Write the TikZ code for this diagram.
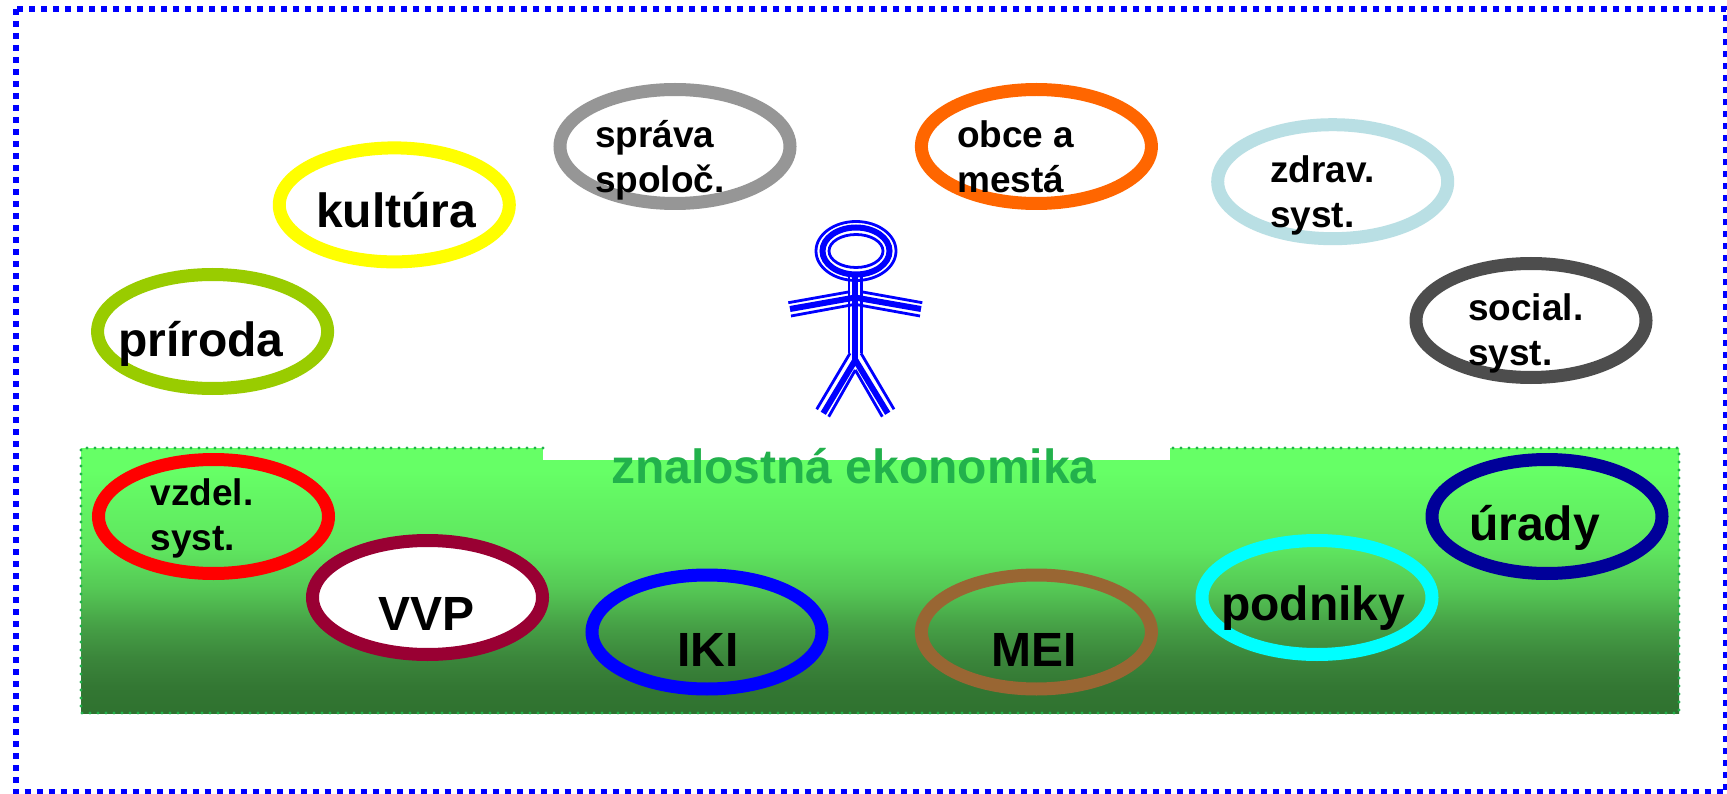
\documentclass[tikz,border=0pt]{standalone}
\usepackage{fontspec}
\setmainfont{Liberation Sans}
\usetikzlibrary{shapes.geometric}
\definecolor{cBlue}{HTML}{0000FF}
\definecolor{cDot}{HTML}{22B14C}
\definecolor{gA}{HTML}{2F722F}
\definecolor{gB}{HTML}{337733}
\definecolor{gC}{HTML}{3B863B}
\definecolor{gE}{HTML}{46A046}
\definecolor{gF}{HTML}{55C855}
\definecolor{gG}{HTML}{5FE55F}
\definecolor{gD}{HTML}{66FF66}
\definecolor{c1}{HTML}{99CC00}
\definecolor{c2}{HTML}{FFFF00}
\definecolor{c3}{HTML}{969696}
\definecolor{c4}{HTML}{FF6600}
\definecolor{c5}{HTML}{B9DFE4}
\definecolor{c6}{HTML}{4D4D4D}
\definecolor{c7}{HTML}{FF0000}
\definecolor{c8}{HTML}{990033}
\definecolor{c9}{HTML}{0000FF}
\definecolor{c10}{HTML}{996633}
\definecolor{c11}{HTML}{00FFFF}
\definecolor{c12}{HTML}{000099}
\pgfdeclareverticalshading{greenfade}{100bp}{color(0bp)=(gA);color(25bp)=(gA);color(30bp)=(gB);color(35.5bp)=(gC);color(41.5bp)=(gE);color(48.5bp)=(gF);color(56bp)=(gG);color(70.9bp)=(gD);color(75bp)=(gD);color(100bp)=(gD)}
\tikzset{
  x=1pt,y=-1pt,
  ring/.style={ellipse,draw=#1,line width=13pt,minimum width=230pt,minimum height=114pt,inner sep=0pt},
  big/.style={anchor=base west,inner sep=0pt,font=\fontsize{48}{48}\selectfont\bfseries},
  small/.style={anchor=base west,inner sep=0pt,font=\fontsize{37}{45}\selectfont\bfseries,align=left},
  thinline/.style={draw=cBlue,line width=2.8pt},
  thickline/.style={draw=cBlue,line width=6pt},
}
\begin{document}
\begin{tikzpicture}
\clip (0,0) rectangle (1727,794);
\fill[white] (0,0) rectangle (1727,794);
% outer frame
\coordinate (fa) at (15.5,9);
\coordinate (fb) at (1726,792);
\draw[cBlue,line width=6pt,dash pattern=on 6pt off 6pt] (fa) rectangle (fb);
% green ground
\coordinate (ga) at (81,448);
\coordinate (gb) at (1679,713);
\shade[shading=greenfade] (ga) rectangle (gb);
\coordinate (na) at (543,440);
\coordinate (nb) at (1170,460);
\fill[white] (na) rectangle (nb);
\coordinate (da) at (543,448);
\coordinate (db) at (1170,448);
\draw[cDot,line width=3.4pt,line cap=round,dash pattern=on 0pt off 8pt]
  (da) -- (ga) |- (gb) |- (db);
% ellipses
\node[ring=c1] (e1) at (212.6,331.5) {};
\node[ring=c2] (e2) at (394.3,204.9) {};
\node[ring=c3] (e3) at (675,146.5) {};
\node[ring=c4] (e4) at (1036.4,146.5) {};
\node[ring=c5] (e5) at (1332.7,181.7) {};
\node[ring=c6] (e6) at (1531,320.5) {};
\node[ring=c7] (e7) at (213.5,516.5) {};
\node[ring=c8,fill=white] (e8) at (427.5,597.5) {};
\node[ring=c9] (e9) at (707,632) {};
\node[ring=c10] (e10) at (1036.4,632) {};
\node[ring=c11] (e11) at (1317,597.5) {};
\node[ring=c12] (e12) at (1547,516.5) {};
% labels
\node[big] (t1) at (118,356) {príroda};
\node[big] (t2) at (316,228) {kultúra};
\node[small] (t3) at (595,192.5) {správa\\spoloč.};
\node[small] (t4) at (957,192.5) {obce a\\mestá};
\node[small] (t5) at (1270,228) {zdrav.\\syst.};
\node[small] (t6) at (1468,365.5) {social.\\syst.};
\node[small] (t7) at (150.4,550) {vzdel.\\syst.};
\node[big] (t8) at (378,630.7) {VVP};
\node[big] (t9) at (677,666) {IKI};
\node[big] (t10) at (991,666) {MEI};
\node[big] (t11) at (1221,620) {podniky};
\node[big] (t12) at (1469,540) {úrady};
\node[big,text=cDot] (t13) at (611,483) {znalostná ekonomika};
% stick figure
\node[ellipse,draw=cBlue,line width=2.8pt,minimum width=80pt,minimum height=59pt,inner sep=0pt] (h1) at (856,251) {};
\node[ellipse,draw=cBlue,line width=6pt,minimum width=67pt,minimum height=47pt,inner sep=0pt] (h2) at (856,251) {};
\node[ellipse,draw=cBlue,line width=2.8pt,minimum width=54pt,minimum height=33pt,inner sep=0pt] (h3) at (856,251) {};
\path[thinline] (849,277) -- (849,353.3) (861.7,277) -- (861.7,353.3);
\path[thickline] (855.3,277) -- (855.3,362);
\path[thinline] (788.3,302.7) -- (850,291.7) (922.3,302.7) -- (861,291.7);
\path[thickline] (790,309) -- (855,297.5) (921,309) -- (855,297.5);
\path[thinline] (791,316) -- (855,304.3) (920,316) -- (855,304.3);
\path[thinline] (816.7,409.3) -- (850,353.3) (894,409.3) -- (861,353.3);
\path[thickline] (823.3,413.3) -- (855.3,360) (887.7,413.3) -- (855.3,360);
\path[thinline] (828.7,416.7) -- (855.3,370) (882.3,416.7) -- (855.3,370);
\end{tikzpicture}
\end{document}
